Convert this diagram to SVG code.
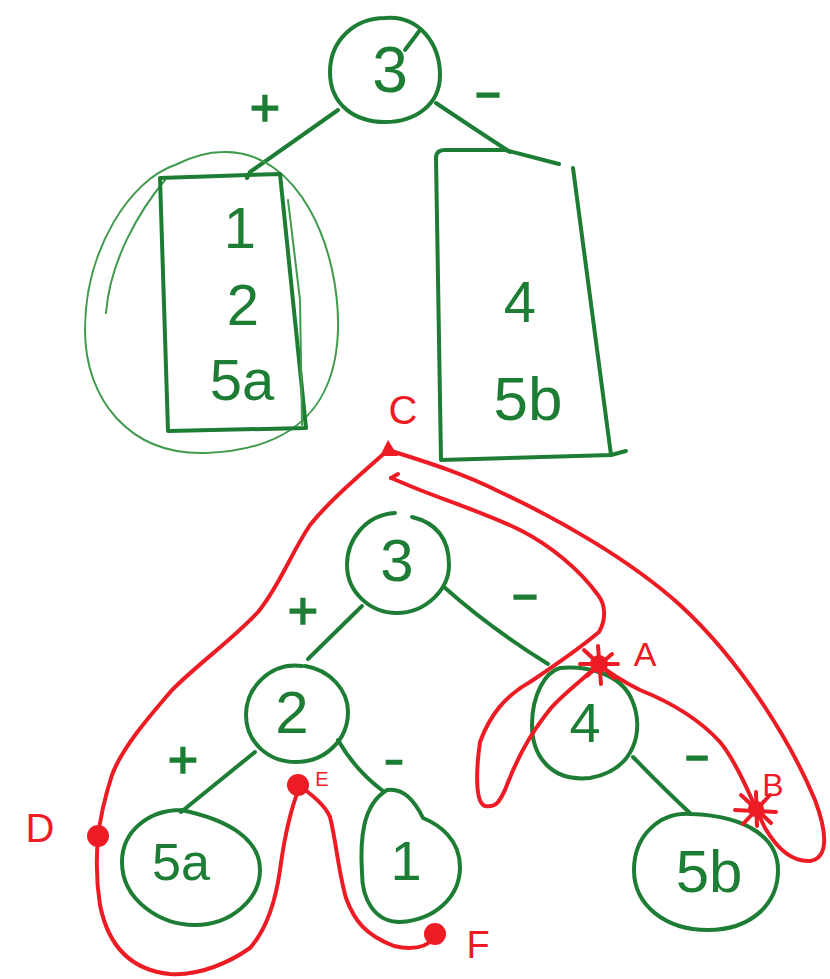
<svg xmlns="http://www.w3.org/2000/svg" width="830" height="979" viewBox="0 0 830 979">
<style>
.g{fill:none;stroke:#1e7d34;stroke-width:4;stroke-linecap:round;stroke-linejoin:round}
.gt{fill:none;stroke:#3f9a4c;stroke-width:2;stroke-linecap:round}
.r{fill:none;stroke:#ed1c24;stroke-width:4;stroke-linecap:round;stroke-linejoin:round}
.rf{fill:#ed1c24}
.t{font-family:"Liberation Sans",Arial,sans-serif;fill:#1e7d34;text-anchor:middle}
.lb{stroke:#1e7d34;stroke-width:1.5}
.rt{font-family:"Liberation Sans",Arial,sans-serif;fill:#ed1c24;text-anchor:middle}
</style>
<rect width="830" height="979" fill="#fff"/>
<g id="connectors">
<path class="g" d="M338 110 L250 172 L247 178"/>
<path class="g" d="M436 103 Q470 126 510 152"/>
<path class="g" d="M362 606 L308 659"/>
<path class="g" d="M444 587 Q490 628 548 664"/>
<path class="g" d="M255 752 L181 812"/>
<path class="g" d="M338 740 Q355 770 383 791"/>
<path class="g" d="M633 757 Q665 790 691 814"/>
<text class="t lb" x="265" y="126" font-size="52">+</text>
<text class="t lb" x="488" y="108" font-size="48" textLength="28" lengthAdjust="spacingAndGlyphs">-</text>
<text class="t lb" x="303" y="629" font-size="52">+</text>
<text class="t lb" x="525" y="610" font-size="48" textLength="28" lengthAdjust="spacingAndGlyphs">-</text>
<text class="t lb" x="183" y="778" font-size="52">+</text>
<text class="t lb" x="394" y="774" font-size="44" textLength="20" lengthAdjust="spacingAndGlyphs">-</text>
<text class="t lb" x="697" y="771" font-size="48" textLength="26" lengthAdjust="spacingAndGlyphs">-</text>
</g>
<g id="top-3">
<path class="g" d="M385 18 C420 15 440 45 440 75 C440 105 415 122 385 122 C355 122 330 105 330 72 C330 40 355 18 385 18"/>
<path class="g" d="M405 50 L420 30"/>
<text class="t" x="390" y="92" font-size="64">3</text>
</g>
<g id="top-left-box">
<path class="gt" d="M223 152 C300 150 340 250 338 330 C336 400 300 450 205 453 C130 455 85 400 85 330 C85 250 130 180 175 165 C195 155 210 152 223 152"/>
<path class="gt" d="M106 313 C110 260 140 210 165 180"/>
<path class="g" d="M160 178 L280 174 L306 428 L168 431 Z"/>
<path class="gt" d="M288 200 L300 300 L302 425"/>
<text class="t" x="240" y="248" font-size="58">1</text>
<text class="t" x="243" y="325" font-size="58">2</text>
<text class="t" x="242" y="400" font-size="58">5a</text>
</g>
<g id="top-right-box">
<path class="g" d="M573 168 L611 455 L441 460 L436 158 Q436 150 445 150 L505 150 L559 164"/>
<path class="g" d="M611 455 L626 451"/>
<text class="t" x="520" y="322" font-size="58">4</text>
<text class="t" x="528" y="420" font-size="62">5b</text>
</g>
<g id="node-3">
<path class="g" d="M395 513 C365 515 347 540 347 565 C347 592 370 613 397 613 C425 613 449 590 449 565 C449 540 437 523 412 517"/>
<text class="t" x="397" y="581" font-size="60">3</text>
</g>
<g id="node-2">
<path class="g" d="M302 666 C270 662 246 688 246 715 C246 742 268 762 296 762 C325 762 348 740 348 712 C348 690 330 670 305 666"/>
<text class="t" x="292" y="733" font-size="60">2</text>
</g>
<g id="node-4">
<path class="g" d="M560 668 C585 666 620 672 632 700 C645 730 635 770 590 778 C550 782 532 755 532 725 C532 695 545 672 560 668"/>
<text class="t" x="585" y="742" font-size="56">4</text>
</g>
<g id="node-5a">
<path class="g" d="M181 810 C150 810 122 830 122 862 C122 900 160 925 195 925 C230 925 260 900 260 870 C260 840 230 820 181 810"/>
<text class="t" x="181" y="880" font-size="52">5a</text>
</g>
<g id="node-1">
<path class="g" d="M387 790 C400 788 412 795 423 818 C440 825 460 840 460 867 C460 897 435 920 400 922 C375 922 362 900 362 873 C360 840 362 805 387 790"/>
<text class="t" x="406" y="880" font-size="56">1</text>
</g>
<g id="node-5b">
<path class="g" d="M691 814 C660 812 634 835 634 870 C634 905 665 930 708 930 C750 930 778 905 778 870 C778 840 750 816 691 814"/>
<text class="t" x="709" y="892" font-size="60">5b</text>
</g>
<g id="traversal">
<path class="r" d="M388 450 C360 475 330 500 310 525 C290 555 280 585 258 612 C232 640 200 662 172 690 C148 718 122 748 112 775 C104 800 100 818 98 838 C96 860 96 880 100 905 C108 945 130 970 170 974 C200 976 230 962 250 948 C266 930 275 905 280 870 C284 840 290 810 300 786 C312 795 325 805 330 817 C336 840 338 870 346 898 C354 920 365 935 394 946 C410 950 425 949 436 937"/>
<path class="r" d="M388 450 C420 460 460 472 500 492 C560 520 630 560 680 605 C740 660 790 740 815 800 C828 835 828 858 810 861 C790 862 775 845 765 828 L756 809 C748 790 735 760 720 742 C700 720 670 702 640 690 C620 680 608 672 599 664 C585 678 565 692 551 708 C535 728 520 750 505 790 C500 800 497 808 485 806 C475 803 476 770 480 742 C490 715 505 696 530 682 C560 662 580 648 599 632 C606 620 606 605 598 595 C580 570 550 545 520 530 C490 515 450 502 420 490 C405 484 396 480 391 478"/>
<path class="r" d="M391 478 L398 474"/>
<path class="rf" d="M380 456 L388 440 L398 456 Z"/>
<circle class="rf" cx="98" cy="836" r="11"/>
<circle class="rf" cx="298" cy="785" r="11"/>
<circle class="rf" cx="435" cy="934" r="11"/>
<circle class="rf" cx="599" cy="664" r="9"/>
<path class="r" d="M584 650 L614 678 M612 654 L587 676 M598 646 L601 684 M580 664 L618 664" stroke-width="3"/>
<circle class="rf" cx="756" cy="809" r="8"/>
<path class="r" d="M741 795 L771 823 M770 795 L743 824 M756 792 L757 826 M735 810 L776 812" stroke-width="3"/>
<text class="rt" x="645" y="666" font-size="34">A</text>
<text class="rt" x="773" y="796" font-size="32">B</text>
<text class="rt" x="403" y="424" font-size="40">C</text>
<text class="rt" x="40" y="842" font-size="40">D</text>
<text class="rt" x="322" y="786" font-size="20">E</text>
<text class="rt" x="478" y="958" font-size="38">F</text>
</g>
</svg>
